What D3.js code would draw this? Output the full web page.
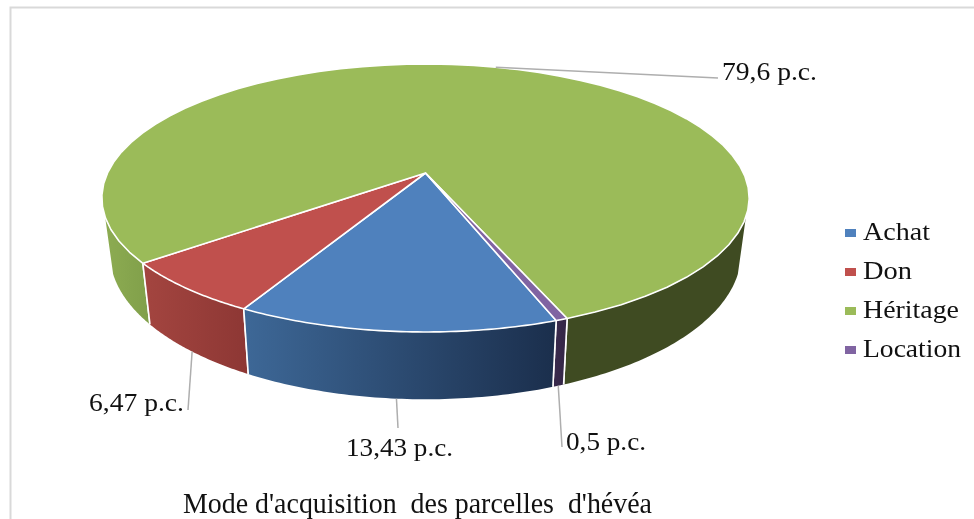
<!DOCTYPE html>
<html><head><meta charset="utf-8">
<script src="https://cdn.jsdelivr.net/npm/d3@7"></script>
<style>html,body{margin:0;background:#fff}svg{display:block;filter:blur(0.4px)}text{font-family:"Liberation Serif",serif;fill:#111;white-space:pre}</style>
</head><body><svg id="c" width="974" height="519"></svg>
<script>
const categories = ["Achat","Don","Héritage","Location"];
const values = [13.43,6.47,79.6,0.5];
const valueLabels = ["13,43 p.c.","6,47 p.c.","79,6 p.c.","0,5 p.c."];
const topColors = ["#4f81bd","#c0504d","#9bbb59","#8064a2"];
const wallStops = [
  [[0,"#3d6796"],[1,"#1b2f4d"]],
  [[0,"#a2443f"],[1,"#8d3734"]],
  [[0,"#8dac52"],[0.08,"#7f9e49"],[0.2,"#7f9e49"],[0.72,"#3f4b22"],[1,"#3f4b22"]],
  [[0,"#3a2b4e"],[1,"#352748"]]
];
const titleText = "Mode d'acquisition  des parcelles  d'hévéa";

const svg = d3.select("#c");
const rad = d3.scaleLinear().domain([0,360]).range([0,2*Math.PI]);
const startDeg = 160.2;
const arcs = d3.pie().sort(null).startAngle(rad(startDeg)).endAngle(rad(startDeg+360))(values);

// Perspective projection of the unit disc
const cx=425.5, cy=173, A=318, B=129.3, p=0.1866;
const topPt = a => { const u=Math.sin(a), v=-Math.cos(a), d=1-p*v; return [cx+A*u/d, cy+B*v/d]; };
const botPt = a => { const [x,y]=topPt(a); return [cx+0.975*(x-cx), 226+1.09*(y-cy)]; };
const line = d3.line();
const samples = (a0,a1) => d3.range(0,61).map(i=>a0+(a1-a0)*i/60);

// frame
svg.append("path").attr("d","M10.5,519V7.5H974").attr("fill","none").attr("stroke","#d9d9d9").attr("stroke-width",2);

// defs: wall gradients
const defs = svg.append("defs");
arcs.forEach((d,i)=>{
  const xs = samples(d.startAngle,d.endAngle).map(botPt).map(q=>q[0]);
  const g = defs.append("linearGradient").attr("id","w"+i).attr("gradientUnits","userSpaceOnUse")
    .attr("x1",i==2?103:d3.min(xs)).attr("x2",i==2?748:d3.max(xs)).attr("y1",0).attr("y2",0);
  wallStops[i].forEach(s=>g.append("stop").attr("offset",s[0]).attr("stop-color",s[1]));
});

// walls: only the visible near part of the rim
const wallOrder=[2,3,1,0];
const near0=rad(108.7), near1=rad(251.3);
wallOrder.forEach(i=>{
  const d=arcs[i];
  const ranges=[];
  [0,360].forEach(k=>{
    const a0=Math.max(d.startAngle-rad(k),near0), a1=Math.min(d.endAngle-rad(k),near1);
    if(a1>a0) ranges.push([a0,a1]);
  });
  ranges.forEach(([a0,a1])=>{
    const s=samples(a0,a1);
    const pts=s.map(topPt).concat(s.slice().reverse().map(botPt));
    svg.append("path").attr("d",line(pts)+"Z").attr("fill",`url(#w${i})`).attr("stroke","none");
    const isCut = a => Math.abs(a-near0)>1e-6 && Math.abs(a-near1)>1e-6;
    [a0,a1].filter(isCut).forEach(a=>{
      svg.append("path").attr("d",line([topPt(a),botPt(a)])).attr("stroke","#fff").attr("stroke-width",1.6).attr("fill","none");
    });
  });
});

// top faces
arcs.forEach((d,i)=>{
  const s=samples(d.startAngle,d.endAngle).map(topPt);
  svg.append("path").attr("d",line([[cx,cy],...s])+"Z").attr("fill",topColors[i]).attr("stroke","#fff").attr("stroke-width",1.6).attr("stroke-linejoin","round");
});

// leaders + value labels
const leaderEnd=[[398,428],[188,410],[718,78],[562,447]];
const labelPos=[[346,456,107],[89,411,95],[722,80,95],[566,450,80]];
arcs.forEach((d,i)=>{
  const mid=(d.startAngle+d.endAngle)/2;
  const from=i==2?topPt(mid):botPt(mid);
  svg.append("path").attr("d",line([from,leaderEnd[i]])).attr("stroke","#aeaeae").attr("stroke-width",1.5).attr("fill","none");
  svg.append("text").attr("x",labelPos[i][0]).attr("y",labelPos[i][1]).attr("font-size",25)
    .attr("textLength",labelPos[i][2]).attr("lengthAdjust","spacingAndGlyphs").text(valueLabels[i]);
});

// legend
const legY=d3.scalePoint().domain(categories).range([233,350]);
const legW=[67,49,96,98];
categories.forEach((c,i)=>{
  svg.append("rect").attr("x",845).attr("y",legY(c)-4).attr("width",11).attr("height",8).attr("fill",topColors[i]);
  svg.append("text").attr("x",863).attr("y",legY(c)+7).attr("font-size",25)
    .attr("textLength",legW[i]).attr("lengthAdjust","spacingAndGlyphs").text(c);
});

// title
svg.append("text").attr("x",183).attr("y",513).attr("font-size",30)
  .attr("textLength",469).attr("lengthAdjust","spacingAndGlyphs").text(titleText);
</script></body></html>
